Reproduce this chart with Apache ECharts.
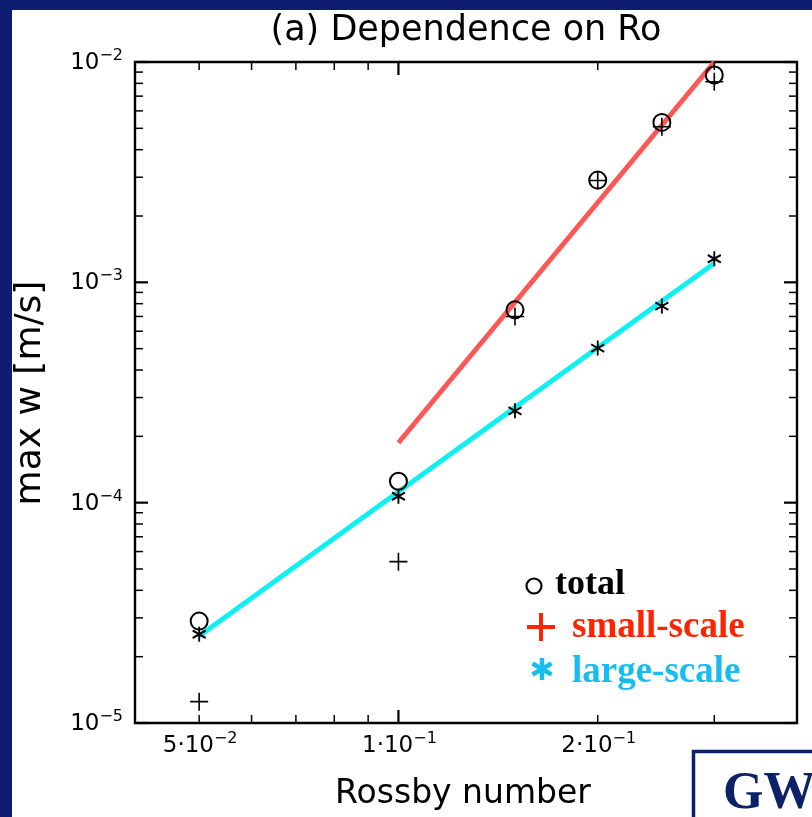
<!DOCTYPE html>
<html><head><meta charset="utf-8">
<script src="https://cdn.jsdelivr.net/npm/echarts@6/dist/echarts.min.js"></script>
<style>
html,body{margin:0;padding:0;background:#0e1c72;overflow:hidden;}
#panel{position:absolute;left:12px;top:10px;width:800px;height:807px;background:#fff;}
#c{position:absolute;left:0;top:0;width:812px;height:817px;}
</style>
</head><body><div id="panel"></div><div id="c"></div>
<script>
// ---- data ----
const rossby = [0.05, 0.1, 0.15, 0.2, 0.25, 0.3];
const wTotal = [2.90e-5, 1.25e-4, 7.5e-4, 2.91e-3, 5.32e-3, 8.73e-3];
const wSmall = [1.25e-5, 5.4e-5, 7.0e-4, 2.9e-3, 5.08e-3, 8.14e-3];
const wLarge = [2.53e-5, 1.07e-4, 2.61e-4, 5.03e-4, 7.8e-4, 1.28e-3];
const fitSmallX = [0.1, 0.3];
const fitSmallY = [1.87e-4, 1.0e-2];
const fitLargeX = [0.05, 0.3];
const fitLargeY = [2.48e-5, 1.22e-3];

const xMajorTicks = [0.1];
const xMinorTicks = [0.05, 0.06, 0.07, 0.08, 0.09, 0.2, 0.3];
const yMajorTicks = [1e-5, 1e-4, 1e-3, 1e-2];
const yMinorTicks = [2e-5, 3e-5, 4e-5, 5e-5, 6e-5, 7e-5, 8e-5, 9e-5,
                     2e-4, 3e-4, 4e-4, 5e-4, 6e-4, 7e-4, 8e-4, 9e-4,
                     2e-3, 3e-3, 4e-3, 5e-3, 6e-3, 7e-3, 8e-3, 9e-3];
const xLabelVals = [0.05, 0.1, 0.2];
const xLabelMant = ['5·10', '1·10', '2·10'];
const xLabelExp = ['−2', '−1', '−1'];
const yLabelVals = [1e-5, 1e-4, 1e-3, 1e-2];
const yLabelMant = ['10', '10', '10', '10'];
const yLabelExp = ['−5', '−4', '−3', '−2'];

const X_MIN = 0.04, X_MAX = 0.4, Y_MIN = 1e-5, Y_MAX = 1e-2;
const FONT = 'DejaVu Sans';

const chart = echarts.init(document.getElementById('c'));

function ticks(vals, axis, len, width) {
  return {
    type: 'custom', coordinateSystem: 'cartesian2d', silent: true, z: 6,
    data: vals.map(v => axis === 'x' ? [v, Y_MIN] : [X_MIN, v]),
    renderItem(params, api) {
      const cs = params.coordSys;
      const p = api.coord([api.value(0), api.value(1)]);
      const st = { stroke: '#000', lineWidth: width };
      if (axis === 'x') {
        const x = p[0];
        return { type: 'group', children: [
          { type: 'line', shape: { x1: x, y1: cs.y + cs.height, x2: x, y2: cs.y + cs.height - len }, style: st },
          { type: 'line', shape: { x1: x, y1: cs.y, x2: x, y2: cs.y + len }, style: st }
        ]};
      }
      const y = p[1];
      return { type: 'group', children: [
        { type: 'line', shape: { x1: cs.x, y1: y, x2: cs.x + len, y2: y }, style: st },
        { type: 'line', shape: { x1: cs.x + cs.width, y1: y, x2: cs.x + cs.width - len, y2: y }, style: st }
      ]};
    }
  };
}

const rich = {
  m: { fontSize: 23, fontFamily: FONT, fill: '#000', lineHeight: 30 },
  e: { fontSize: 16, fontFamily: FONT, fill: '#000', lineHeight: 14, verticalAlign: 'top' }
};

function labels(vals, mant, exp, axis) {
  return {
    type: 'custom', coordinateSystem: 'cartesian2d', silent: true, z: 6,
    data: vals.map(v => axis === 'x' ? [v, Y_MIN] : [X_MIN, v]),
    renderItem(params, api) {
      const cs = params.coordSys;
      const p = api.coord([api.value(0), api.value(1)]);
      const i = params.dataIndex;
      const txt = '{m|' + mant[i] + '}{e|' + exp[i] + '}';
      if (axis === 'x') {
        return { type: 'text', x: p[0] + 1, y: cs.y + cs.height + 23,
          style: { text: txt, rich: rich, align: 'center', verticalAlign: 'middle' } };
      }
      return { type: 'text', x: cs.x - 12, y: p[1] + 1,
        style: { text: txt, rich: rich, align: 'right', verticalAlign: 'middle' } };
    }
  };
}

const zip = (a, b) => a.map((v, i) => [v, b[i]]);

const option = {
  animation: false,
  backgroundColor: 'transparent',
  grid: { left: 135, top: 62, width: 662, height: 661, show: true, borderColor: '#000', borderWidth: 2.4, backgroundColor: 'transparent' },
  xAxis: { type: 'log', logBase: 10, min: X_MIN, max: X_MAX,
    axisLine: { show: false }, axisTick: { show: false }, axisLabel: { show: false }, splitLine: { show: false } },
  yAxis: { type: 'log', logBase: 10, min: Y_MIN, max: Y_MAX,
    axisLine: { show: false }, axisTick: { show: false }, axisLabel: { show: false }, splitLine: { show: false } },
  series: [
    ticks(xMajorTicks, 'x', 13, 2.2),
    ticks(xMinorTicks, 'x', 8, 1.5),
    ticks(yMajorTicks, 'y', 13, 2.2),
    ticks(yMinorTicks, 'y', 8, 1.5),
    labels(xLabelVals, xLabelMant, xLabelExp, 'x'),
    labels(yLabelVals, yLabelMant, yLabelExp, 'y'),
    { type: 'line', name: 'fit small', data: zip(fitSmallX, fitSmallY), showSymbol: false, z: 2,
      lineStyle: { color: '#ff5656', width: 5 } },
    { type: 'line', name: 'fit large', data: zip(fitLargeX, fitLargeY), showSymbol: false, z: 2,
      lineStyle: { color: '#10f0f2', width: 5 } },
    { type: 'scatter', name: 'total', data: zip(rossby, wTotal), symbol: 'circle', symbolSize: 17, z: 4,
      itemStyle: { color: 'transparent', borderColor: '#000', borderWidth: 2, opacity: 1 } },
    { type: 'scatter', name: 'small-scale', data: zip(rossby, wSmall), symbol: 'path://M0,-10L0,10M-10,0L10,0', symbolSize: 18, z: 4,
      itemStyle: { color: 'transparent', borderColor: '#000', borderWidth: 1.6, opacity: 1 } },
    { type: 'scatter', name: 'large-scale', data: zip(rossby, wLarge), symbol: 'path://M0,-10L0,10M-8.66,-5L8.66,5M-8.66,5L8.66,-5', symbolSize: [13, 15], z: 4,
      itemStyle: { color: 'transparent', borderColor: '#000', borderWidth: 2, opacity: 1 } }
  ],
  graphic: [
    { type: 'text', x: 466, y: 31, style: { text: '(a) Dependence on Ro', font: '35px "DejaVu Sans"', fill: '#000', align: 'center', verticalAlign: 'middle' } },
    { type: 'text', x: 463, y: 794, style: { text: 'Rossby number', font: '33px "DejaVu Sans"', fill: '#000', align: 'center', verticalAlign: 'middle' } },
    { type: 'text', x: 31, y: 393, rotation: Math.PI / 2, style: { text: 'max w [m/s]', font: '36px "DejaVu Sans"', fill: '#000', align: 'center', verticalAlign: 'middle' } },
    // legend
    { type: 'circle', shape: { cx: 534, cy: 586, r: 7.5 }, style: { fill: 'none', stroke: '#000', lineWidth: 2.2 } },
    { type: 'text', x: 555, y: 585, style: { text: 'total', font: 'bold 36px "Liberation Serif"', fill: '#000', align: 'left', verticalAlign: 'middle' } },
    { type: 'line', shape: { x1: 527, y1: 627, x2: 555, y2: 627 }, style: { stroke: '#ff2400', lineWidth: 4 } },
    { type: 'line', shape: { x1: 541, y1: 613, x2: 541, y2: 641 }, style: { stroke: '#ff2400', lineWidth: 4 } },
    { type: 'text', x: 572, y: 627, style: { text: 'small-scale', font: 'bold 37px "Liberation Serif"', fill: '#ff2400', align: 'left', verticalAlign: 'middle' } },
    { type: 'line', shape: { x1: 542, y1: 658, x2: 542, y2: 680 }, style: { stroke: '#18bdf0', lineWidth: 4.5 } },
    { type: 'line', shape: { x1: 532.5, y1: 663.5, x2: 551.5, y2: 674.5 }, style: { stroke: '#18bdf0', lineWidth: 4.5 } },
    { type: 'line', shape: { x1: 532.5, y1: 674.5, x2: 551.5, y2: 663.5 }, style: { stroke: '#18bdf0', lineWidth: 4.5 } },
    { type: 'text', x: 572, y: 672, style: { text: 'large-scale', font: 'bold 37px "Liberation Serif"', fill: '#18bdf0', align: 'left', verticalAlign: 'middle' } },
    // GW box
    { type: 'rect', shape: { x: 693.5, y: 751.5, width: 140, height: 90 }, style: { fill: '#fff', stroke: '#0b1f6e', lineWidth: 3.5 } },
    { type: 'text', x: 723, y: 795, style: { text: 'GW', font: 'bold 52px "Liberation Serif"', fill: '#0c2266', align: 'left', verticalAlign: 'middle' } }
  ]
};
chart.setOption(option);
</script>
</body></html>
